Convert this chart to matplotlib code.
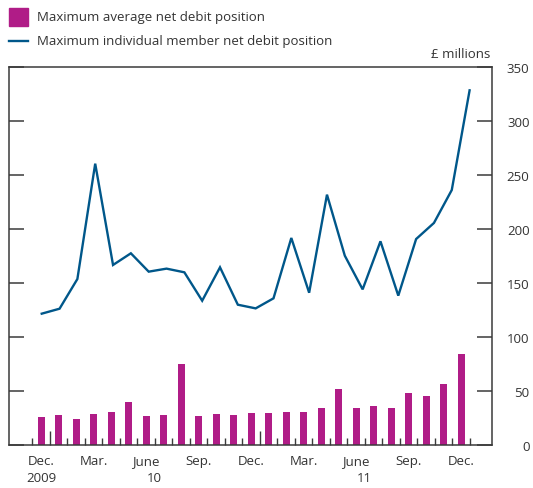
import numpy as np
import matplotlib
matplotlib.use("Agg")
import matplotlib.pyplot as plt
from matplotlib.patches import Rectangle
from matplotlib.lines import Line2D
from matplotlib.ticker import FixedLocator

# monthly data, Dec 2009 .. Dec 2011 (£ millions)
avg_net_debit = [25.6, 27.5, 24.0, 29.0, 30.6, 39.8, 26.9, 27.8, 75.3, 26.9,
                 28.7, 27.8, 29.6, 29.6, 30.2, 30.2, 34.3, 51.5, 34.3, 36.4,
                 34.0, 48.5, 45.0, 56.8, 84.3]
max_member_debit = [121.6, 126.2, 153.7, 260.5, 166.7, 177.5, 160.5, 163.3, 159.9,
                    133.6, 164.5, 129.9, 126.5, 135.8, 191.7, 141.0, 231.8, 175.3,
                    144.1, 188.6, 138.3, 190.7, 205.6, 236.1, 328.4]
month_labels = ["Dec.", "Mar.", "June", "Sep.", "Dec.", "Mar.", "June", "Sep.", "Dec."]
month_label_idx = [0, 3, 6, 9, 12, 15, 18, 21, 24]
year_labels = ["2009", "10", "11"]
year_label_pos = [0, 6.5, 18.5]
year_breaks = [0.5, 12.5]

bar_col = "#B01C87"
line_col = "#00578A"
axis_col = "#3a3a3a"
text_col = "#333333"

plt.rcParams['font.family'] = ['Open Sans', 'DejaVu Sans']

W, H = 533, 489
fig = plt.figure(figsize=(W / 100, H / 100), dpi=100)


def fx(px):
    return px / W


def fy(py):
    return 1 - py / H


ax = fig.add_axes([fx(9), fy(446), fx(492) - fx(9), fy(68) - fy(446)])

x = np.arange(len(avg_net_debit))
ax.bar(x, avg_net_debit, width=0.4, color=bar_col, zorder=2)
# the line series is drawn on a slightly wider month spacing in the original
x_line = 0.04 + x * (24.45 / 24)
ax.plot(x_line, max_member_debit, color=line_col, lw=1.7, zorder=3,
        solid_joinstyle='miter')

ax.set_xlim(-1.83, 25.77)
ax.set_ylim(0, 350)

for s in ax.spines.values():
    s.set_color(axis_col)
    s.set_linewidth(1.1)

# y axis: ticks inward on both sides, labels on right
ax.set_yticks(np.arange(0, 351, 50))
ax.tick_params(axis='y', which='major', direction='in', length=11, width=1.1,
               color=axis_col, left=True, right=True, labelleft=False,
               labelright=True, labelsize=9.5, labelcolor=text_col, pad=27)
for lab in ax.get_yticklabels():
    lab.set_horizontalalignment('right')

# x axis: month boundary ticks, taller at year breaks
boundaries = np.arange(-0.5, len(x), 1.0)
minor = [b for b in boundaries if b not in year_breaks]
ax.xaxis.set_major_locator(FixedLocator(year_breaks))
ax.xaxis.set_minor_locator(FixedLocator(minor))
ax.tick_params(axis='x', which='major', direction='in', length=10, width=1.0,
               color=axis_col, labelbottom=False)
ax.tick_params(axis='x', which='minor', direction='in', length=5, width=1.0,
               color=axis_col, labelbottom=False)

tr = ax.get_xaxis_transform()
for i, lab in zip(month_label_idx, month_labels):
    ax.text(i, -0.04, lab, transform=tr, ha='center', va='center',
            fontsize=9.5, color=text_col)
for p, lab in zip(year_label_pos, year_labels):
    ax.text(p, -0.085, lab, transform=tr, ha='center', va='center',
            fontsize=9.5, color=text_col)

# units label
fig.text(fx(490), fy(55), "£ millions", ha='right', va='center',
         fontsize=9.5, color=text_col)

# legend drawn by hand
fig.add_artist(Rectangle((fx(9), fy(27)), fx(19), fy(9) - fy(27),
                         transform=fig.transFigure, color=bar_col))
fig.add_artist(Line2D([fx(9), fx(28)], [fy(42), fy(42)],
                      transform=fig.transFigure, color=line_col, lw=1.7))
fig.text(fx(37), fy(18), "Maximum average net debit position", ha='left',
         va='center', fontsize=9.5, color=text_col)
fig.text(fx(37), fy(42), "Maximum individual member net debit position",
         ha='left', va='center', fontsize=9.5, color=text_col)

fig.savefig("out.png", dpi=100)
